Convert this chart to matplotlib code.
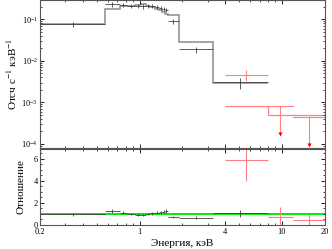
import numpy as np
import matplotlib
matplotlib.use("Agg")
import matplotlib.pyplot as plt
from matplotlib.ticker import FixedLocator, FixedFormatter, LogLocator, NullFormatter, MultipleLocator

plt.rcParams['font.family'] = ['Liberation Serif', 'DejaVu Serif']
plt.rcParams['mathtext.fontset'] = 'stix'

# black spectrum (keV bins, counts s^-1 keV^-1)
blk_edges = [0.2, 0.572, 0.728, 0.816, 0.928, 1.02, 1.11, 1.18, 1.28, 1.37, 1.44, 1.51, 1.58, 1.89, 3.27, 7.96]
blk_data = [0.0758, 0.23, 0.225, 0.215, 0.21, 0.205, 0.215, 0.21, 0.2, 0.19, 0.18, 0.17, 0.0895, 0.0189, 0.00303]
blk_err = [0.011, 0.03, 0.028, 0.027, 0.026, 0.025, 0.026, 0.026, 0.025, 0.024, 0.023, 0.022, 0.011, 0.003, 0.0009]
blk_model = [0.078, 0.181, 0.205, 0.215, 0.221, 0.233, 0.215, 0.2, 0.182, 0.165, 0.15, 0.136, 0.125, 0.0279, 0.00287]

# red spectrum
red_edges = [3.97, 7.96, 11.9, 20.0]
red_data = [0.0047, 3.8e-4, 2.2e-4]
red_err = [0.0015, 4.5e-4, 2.3e-4]
red_model = [8.0e-4, 5.1e-4, 4.9e-4]

xticks = [0.2, 1, 4, 10, 20]
xticklabels = ['0.2', '1', '4', '10', '20']


def bins(edges):
    e = np.array(edges)
    lo, hi = e[:-1], e[1:]
    c = np.sqrt(lo * hi)
    return c, [c - lo, hi - c]


fig = plt.figure(figsize=(3.32, 2.49), dpi=100)
ax1 = fig.add_axes([0.1205, 0.406, 0.858, 0.592])
ax2 = fig.add_axes([0.1205, 0.0964, 0.858, 0.306], sharex=ax1)

gray = '#8c8c8c'
pink = '#ff8080'

# top panel
bc, bxerr = bins(blk_edges)
ax1.stairs(blk_model, blk_edges, baseline=None, color=gray, lw=1.1)
ax1.errorbar(bc, blk_data, xerr=bxerr, yerr=blk_err, fmt='none', ecolor='#404040', elinewidth=0.6)

rc, rxerr = bins(red_edges)
rd = np.array(red_data)
re = np.array(red_err)
ax1.stairs(red_model, red_edges, baseline=None, color=pink, lw=0.9)
det = rd - re > 0
ax1.errorbar(rc[det], rd[det], xerr=[rxerr[0][det], rxerr[1][det]], yerr=re[det],
             fmt='none', ecolor=pink, elinewidth=0.8)
ul = rd + re
arrow_fac = 0.21
for i in np.where(~det)[0]:
    ax1.plot([red_edges[i], red_edges[i + 1]], [ul[i], ul[i]], color=pink, lw=0.8)
    ax1.plot([rc[i], rc[i]], [ul[i], ul[i] * arrow_fac], color=pink, lw=0.8)
    ax1.plot(rc[i], ul[i] * arrow_fac, marker='v', color='red', ms=3, mew=0)

ax1.set_xscale('log')
ax1.set_yscale('log')
ax1.set_xlim(0.2, 20)
ax1.set_ylim(8.0e-5, 0.286)
ax1.set_ylabel('Отсч с$^{-1}$ кэВ$^{-1}$', fontsize=8, labelpad=2)
ax1.yaxis.set_minor_locator(LogLocator(subs=np.arange(2, 10)))
ax1.yaxis.set_minor_formatter(NullFormatter())
ax1.tick_params(labelbottom=False)

# ratio panel
ratio = np.array(blk_data) / np.array(blk_model)
ratio_err = np.array(blk_err) / np.array(blk_model)
ax2.axhline(1, color='#00ee00', lw=1.4, zorder=1)
ax2.errorbar(bc, ratio, xerr=bxerr, yerr=ratio_err, fmt='none', ecolor='#404040', elinewidth=0.6)
rratio = rd / np.array(red_model)
rratio_err = re / np.array(red_model)
ax2.errorbar(rc, rratio, xerr=rxerr, yerr=rratio_err, fmt='none', ecolor=pink, elinewidth=0.8)
ax2.set_ylim(0, 6.9)
ax2.yaxis.set_major_locator(MultipleLocator(2))
ax2.yaxis.set_minor_locator(MultipleLocator(0.5))
ax2.set_ylabel('Отношение', fontsize=8, labelpad=6)
ax2.set_xlabel('Энергия, кэВ', fontsize=8, labelpad=2)

ax2.xaxis.set_major_locator(FixedLocator(xticks))
ax2.xaxis.set_major_formatter(FixedFormatter(xticklabels))
ax2.xaxis.set_minor_locator(LogLocator(subs=np.arange(2, 10)))
ax2.xaxis.set_minor_formatter(NullFormatter())

for ax in (ax1, ax2):
    ax.tick_params(which='both', direction='in', top=True, right=True, labelsize=6, pad=1.5)
    ax.tick_params(which='major', length=3, width=0.6)
    ax.tick_params(which='minor', length=1.5, width=0.5)
    for s in ax.spines.values():
        s.set_color('#555555')
        s.set_linewidth(0.8)
ax2.tick_params(axis='x', pad=2.5)

fig.savefig('out.png', dpi=100)
